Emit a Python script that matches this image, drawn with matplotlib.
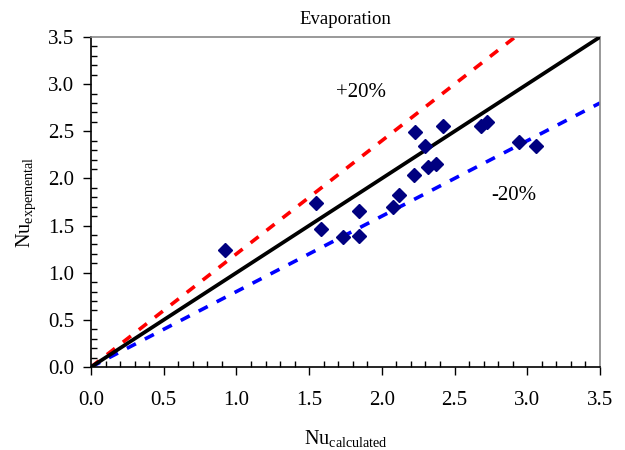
import matplotlib
matplotlib.use("Agg")
import matplotlib.pyplot as plt
from matplotlib.ticker import MultipleLocator, FormatStrFormatter

plt.rcParams['font.family'] = ['Liberation Serif', 'DejaVu Serif']

nu_calc = [0.92, 1.55, 1.58, 1.73, 1.84, 1.84, 2.08, 2.12, 2.22, 2.23, 2.30, 2.32, 2.37, 2.42, 2.68, 2.72, 2.94, 3.06]
nu_exp = [1.24, 1.74, 1.46, 1.38, 1.65, 1.39, 1.70, 1.82, 2.04, 2.49, 2.34, 2.12, 2.15, 2.56, 2.56, 2.60, 2.39, 2.34]
line_x = [0.0, 3.5]
factors = [1.0, 1.2, 0.8]

fig = plt.figure(figsize=(6.25, 4.5), dpi=100)
ax = fig.add_axes([0.1456, 0.1844, 0.8144, 0.7334])

ax.plot(line_x, [factors[1] * v for v in line_x], color='red', lw=2.6, dashes=(2.8, 2.8), zorder=2)
ax.plot(line_x, [factors[2] * v for v in line_x], color='blue', lw=2.6, dashes=(2.8, 2.8), zorder=2)
ax.plot(line_x, [factors[0] * v for v in line_x], color='black', lw=2.7, zorder=3)
ax.plot(nu_calc, nu_exp, linestyle='none', marker='D', color='#000080', ms=7.5, zorder=4)

ax.set_xlim(0, 3.5)
ax.set_ylim(0, 3.5)
ax.xaxis.set_major_locator(MultipleLocator(0.5))
ax.yaxis.set_major_locator(MultipleLocator(0.5))
ax.xaxis.set_minor_locator(MultipleLocator(0.1))
ax.yaxis.set_minor_locator(MultipleLocator(0.1))
ax.xaxis.set_major_formatter(FormatStrFormatter('%.1f'))
ax.yaxis.set_major_formatter(FormatStrFormatter('%.1f'))
ax.tick_params(which='major', direction='out', length=6, width=1, labelsize=15)
ax.tick_params(axis='x', which='major', pad=11)
ax.tick_params(axis='y', which='major', pad=6)
ax.tick_params(which='minor', direction='in', length=4, width=1)

for s in ['top', 'right']:
    ax.spines[s].set_color('#888888')
    ax.spines[s].set_linewidth(1.2)
for s in ['left', 'bottom']:
    ax.spines[s].set_color('black')
    ax.spines[s].set_linewidth(1.2)

ax.text(1.86, 2.91, '+20%', fontsize=15, ha='center', va='center')
ax.text(2.91, 1.82, '-20%', fontsize=15, ha='center', va='center')

ax.set_title('Evaporation', fontsize=13.5, pad=9)
ax.set_xlabel(r'Nu$_{\mathregular{calculated}}$', fontsize=14.5, labelpad=14)
ax.set_ylabel(r'Nu$_{\mathregular{expemental}}$', fontsize=14.5, labelpad=7)

fig.savefig('out.png', dpi=100)
